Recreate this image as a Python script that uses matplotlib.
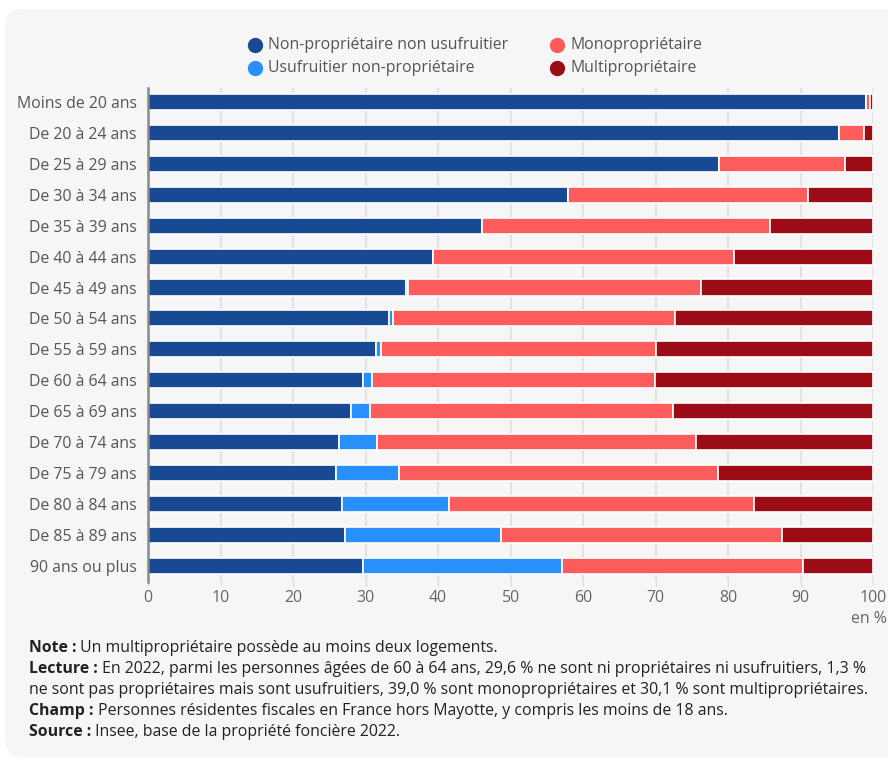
import matplotlib
matplotlib.use("Agg")
import matplotlib.pyplot as plt
from matplotlib.patches import FancyBboxPatch
import numpy as np

plt.rcParams['font.family'] = ['Open Sans', 'DejaVu Sans']

categories = ["Moins de 20 ans", "De 20 à 24 ans", "De 25 à 29 ans", "De 30 à 34 ans",
              "De 35 à 39 ans", "De 40 à 44 ans", "De 45 à 49 ans", "De 50 à 54 ans",
              "De 55 à 59 ans", "De 60 à 64 ans", "De 65 à 69 ans", "De 70 à 74 ans",
              "De 75 à 79 ans", "De 80 à 84 ans", "De 85 à 89 ans", "90 ans ou plus"]
non_proprietaire = [99.1, 95.3, 78.8, 57.9, 46.1, 39.3, 35.6, 33.2, 31.4, 29.6, 28.0, 26.3, 25.9, 26.8, 27.2, 29.7]
usufruitier      = [0.0, 0.0, 0.0, 0.0, 0.0, 0.0, 0.3, 0.6, 0.8, 1.3, 2.6, 5.3, 8.7, 14.7, 21.5, 27.4]
mono             = [0.5, 3.5, 17.3, 33.1, 39.7, 41.5, 40.4, 38.9, 37.9, 39.0, 41.8, 44.0, 44.0, 42.1, 38.7, 33.2]
multi            = [0.4, 1.2, 3.9, 9.0, 14.2, 19.2, 23.7, 27.3, 29.9, 30.1, 27.6, 24.4, 21.4, 16.4, 12.6, 9.7]
series_names = ["Non-propriétaire non usufruitier", "Usufruitier non-propriétaire",
                "Monopropriétaire", "Multipropriétaire"]
colors = ["#184a93", "#2790fd", "#fc5c5c", "#9c0c17"]
xticks = [0, 10, 20, 30, 40, 50, 60, 70, 80, 90, 100]

FS = 11.4
W, H = 888, 760
fig = plt.figure(figsize=(W / 100, H / 100), dpi=100)
fig.patch.set_facecolor("white")

panel = FancyBboxPatch((5 / W, 3 / H), (W + 20) / W, (H - 12) / H,
                       boxstyle="round,pad=0,rounding_size=0.02",
                       transform=fig.transFigure, facecolor="#f6f6f6",
                       edgecolor="none", zorder=-10, mutation_aspect=W / H)
fig.patches.append(panel)

ax = fig.add_axes([148 / W, 1 - 582 / H, 725 / W, (582 - 88) / H])
ax.set_facecolor("none")
ax.set_zorder(2)

y = np.arange(len(categories))
left = np.zeros(len(categories))
data = [non_proprietaire, usufruitier, mono, multi]
for vals, name, c in zip(data, series_names, colors):
    vals = np.array(vals)
    ax.barh(y, vals, left=left, height=0.52, color=c, edgecolor="white",
            linewidth=1.2, label=name, zorder=3)
    left += vals

ax.set_ylim(len(categories) - 0.48, -0.45)
ax.set_xlim(0, 100)
ax.set_yticks(y)
ax.set_yticklabels(categories, fontsize=FS, color="#555555")
ax.set_xticks(xticks)
ax.set_xticklabels([str(t) for t in xticks], fontsize=FS, color="#666666")
ax.tick_params(axis="y", length=0, pad=8)
ax.tick_params(axis="x", length=3, color="#d8d8d8", pad=3)
ax.grid(axis="x", color="#e2e2e2", linewidth=1.5, zorder=0)
for s in ["top", "right", "bottom"]:
    ax.spines[s].set_visible(False)
ax.spines["left"].set_color("#888888")
ax.spines["left"].set_linewidth(1.8)
ax.spines["left"].set_zorder(4)

fig.text(887 / W, 1 - 619 / H, "en %", ha="right", va="center", fontsize=FS, color="#666666")

# legend (manual, 2 columns)
leg_pos = [(255, 45), (255, 68), (557, 45), (557, 68)]
for (lx, ly), name, c in zip(leg_pos, series_names, colors):
    fig.add_artist(plt.Line2D([lx / W], [1 - ly / H], marker="o", markersize=10,
                              color=c, transform=fig.transFigure, linestyle="none"))
    fig.text((lx + 13) / W, 1 - ly / H, name, fontsize=FS, color="#555555",
             va="center", ha="left")

fig.canvas.draw()
renderer = fig.canvas.get_renderer()

notes = [
    ("Note :", " Un multipropriétaire possède au moins deux logements.", 648),
    ("Lecture :", " En 2022, parmi les personnes âgées de 60 à 64 ans, 29,6 % ne sont ni propriétaires ni usufruitiers, 1,3 %", 669),
    ("", "ne sont pas propriétaires mais sont usufruitiers, 39,0 % sont monopropriétaires et 30,1 % sont multipropriétaires.", 690),
    ("Champ :", " Personnes résidentes fiscales en France hors Mayotte, y compris les moins de 18 ans.", 711),
    ("Source :", " Insee, base de la propriété foncière 2022.", 732),
]
x0 = 29
for bold, normal, ypx in notes:
    xx = x0
    if bold:
        t = fig.text(xx / W, 1 - ypx / H, bold, fontsize=FS, fontweight="bold",
                     color="#222222", va="center", ha="left")
        bb = t.get_window_extent(renderer)
        xx = bb.x1
    fig.text(xx / W, 1 - ypx / H, normal, fontsize=FS, color="#222222",
             va="center", ha="left")

fig.savefig("out.png", dpi=100)
